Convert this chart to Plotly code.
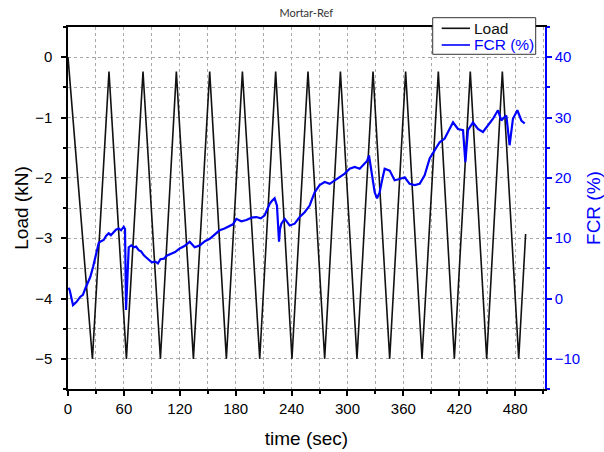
import plotly.graph_objects as go

# Load (kN) triangle wave turning points
load_t = [0, 26.2, 44.0, 62.7, 80.5, 99.2, 116.3, 134.6, 152.1, 170.0, 187.2, 205.8, 222.9,
          240.4, 257.6, 275.5, 292.4, 310.2, 327.4, 345.3, 362.4, 380.0, 397.5, 414.7,
          431.8, 449.4, 466.2, 483.8, 491.2]
load_v = [0, -5.0, -0.24, -5.0, -0.24, -5.0, -0.24, -5.0, -0.24, -5.0, -0.24, -5.0, -0.24,
          -5.0, -0.24, -5.0, -0.24, -5.0, -0.24, -5.0, -0.24, -5.0, -0.24, -5.0,
          -0.24, -5.0, -0.24, -5.0, -2.93]

# FCR (%)
fcr_t = [0.5, 1.8, 5.4, 9, 13.3, 16, 18.7, 21, 24, 27, 29.4, 31, 33, 35.5, 38.3, 41, 43.7, 46,
         49, 51.5, 54.4, 57, 59.8, 61.2, 62.3, 63.5, 65.2, 68, 70.5, 73, 75.9, 78.5, 81.2, 84,
         86.6, 90, 93.8, 96.5, 99.2, 103, 106, 109.9, 115, 119.9, 125, 130.6, 133, 136, 141.4,
         147, 152.1, 157, 162.8, 168, 173.6, 177, 180.7, 186, 191.5, 197, 202.2, 207, 211.1,
         214, 216.5, 219, 221.8, 224.3, 225.5, 226.5, 227.5, 229, 232.6, 238, 243.3, 248.7,
         254, 259.4, 262, 264.8, 270.1, 275.5, 280.9, 286.2, 291.6, 297, 302.3, 307.7, 313.1,
         318.4, 321, 323.1, 325.6, 329.2, 331.7, 334.5, 337, 339.9, 345.3, 350.6, 356, 361.4,
         366.7, 372.1, 377.5, 382.8, 388.2, 393.6, 398.9, 404.3, 409.7, 413.3, 418.6, 424,
         426.5, 429.3, 434.7, 440, 445.4, 450.8, 456.2, 461.5, 465.1, 468, 470.5, 474, 477.6,
         482.3, 486.6, 490.2]
fcr_v = [1.8, 1.4, -1.1, -0.6, 0.3, 0.6, 1.7, 2.5, 3.6, 5.3, 6.7, 8.0, 9.2, 9.5, 9.7, 10.4,
         10.8, 10.5, 11.0, 11.4, 11.6, 11.3, 11.9, 11.5, -1.9, 4.0, 8.5, 8.8, 8.5, 8.6, 8.0,
         7.8, 7.2, 6.8, 6.5, 6.0, 6.1, 5.8, 6.5, 6.6, 7.1, 7.4, 7.7, 8.3, 8.7, 9.4, 9.0, 8.5,
         8.8, 9.5, 9.9, 10.5, 11.3, 11.6, 12.1, 12.3, 13.2, 12.8, 13.0, 13.4, 13.5, 13.3, 13.8,
         14.8, 15.7, 16.2, 16.6, 15.4, 12.0, 9.4, 11.5, 12.4, 13.2, 12.1, 12.4, 13.5, 14.3,
         15.4, 16.5, 17.6, 18.8, 19.3, 19.0, 19.6, 20.1, 20.7, 21.5, 21.8, 21.5, 22.4, 22.8,
         23.7, 21.2, 17.6, 16.6, 17.6, 19.5, 21.5, 21.2, 19.6, 19.8, 20.1, 19.0, 18.8, 19.0,
         20.4, 23.2, 24.6, 25.9, 26.5, 28.1, 29.2, 28.1, 27.9, 22.6, 27.9, 29.2, 28.1, 27.6,
         28.7, 29.8, 31.2, 29.5, 30.0, 30.3, 25.4, 29.8, 31.2, 29.5, 29.0]

x_ticks = [0, 60, 120, 180, 240, 300, 360, 420, 480]
y_ticks = [0, -1, -2, -3, -4, -5]
y2_ticks = [-10, 0, 10, 20, 30, 40]

FONT = "Liberation Sans, Arial, sans-serif"
GRID = "#a8a8a8"
BLUE = "#0000ff"
LOAD_COLOR = "#111111"

fig = go.Figure()
fig.add_trace(go.Scatter(x=load_t, y=load_v, mode="lines", name="Load",
                         line=dict(color=LOAD_COLOR, width=1.6)))
fig.add_trace(go.Scatter(x=fcr_t, y=fcr_v, mode="lines", yaxis="y2", name="FCR (%)",
                         line=dict(color=BLUE, width=2.2)))

# legend box drawn in paper coordinates (compact, like the original)
legend_items = [("Load", LOAD_COLOR, 0.9964), ("FCR (%)", BLUE, 0.9503)]
shapes = [dict(type="rect", xref="paper", yref="paper", x0=0.7646, x1=0.9805,
               y0=0.9246, y1=1.0257, fillcolor="white", line=dict(color="#333", width=1),
               layer="above")]
annotations = []
for label, color, yy in legend_items:
    shapes.append(dict(type="line", xref="paper", yref="paper", x0=0.7834, x1=0.8428,
                       y0=yy, y1=yy, line=dict(color=color, width=1.6), layer="above"))
    annotations.append(dict(text=label, xref="paper", yref="paper", x=0.8470, y=yy,
                            xanchor="left", yanchor="middle", showarrow=False,
                            font=dict(size=15.5, color=color, family=FONT)))

fig.update_layout(
    width=604, height=452,
    margin=dict(l=68, r=59, t=27, b=63),
    paper_bgcolor="white", plot_bgcolor="white",
    font=dict(family=FONT, size=15, color="black"),
    title=dict(text="Mortar-Ref", x=0.507, xanchor="center", y=0.972, yanchor="middle",
               font=dict(family="Lato, Open Sans, sans-serif", size=11, color="#333")),
    showlegend=False,
    shapes=shapes,
    annotations=annotations,
    xaxis=dict(range=[0, 512], tickvals=x_ticks, ticks="outside", ticklen=5,
               tickwidth=1.5, tickcolor="black", automargin=False,
               showline=True, linecolor="black", linewidth=1.5, mirror=True,
               showgrid=True, gridcolor=GRID, griddash="3px,3px", gridwidth=1,
               zeroline=False,
               minor=dict(dtick=30, tick0=0, ticks="outside", ticklen=3, tickcolor="black",
                          showgrid=True, gridcolor=GRID, griddash="3px,3px", gridwidth=1),
               title=dict(text="time (sec)", font=dict(size=19), standoff=16)),
    yaxis=dict(range=[-5.5, 0.5], tickvals=y_ticks, ticks="outside", ticklen=5,
               tickwidth=1.5, tickcolor="black", automargin=False,
               showline=True, linecolor="black", linewidth=1.5,
               showgrid=True, gridcolor=GRID, griddash="3px,3px", gridwidth=1,
               zeroline=False, ticklabelstandoff=6,
               minor=dict(dtick=0.5, tick0=0, ticks="outside", ticklen=3, tickcolor="black",
                          showgrid=True, gridcolor=GRID, griddash="3px,3px", gridwidth=1),
               title=dict(text="Load (kN)", font=dict(size=19), standoff=1)),
    yaxis2=dict(range=[-15, 45], tickvals=y2_ticks, overlaying="y", side="right",
                ticks="outside", ticklen=5, tickwidth=1.5, tickcolor=BLUE, automargin=False,
                showline=True, linecolor=BLUE, linewidth=1.5,
                showgrid=False, zeroline=False,
                tickfont=dict(color=BLUE),
                minor=dict(dtick=5, tick0=0, ticks="outside", ticklen=3, tickcolor=BLUE),
                title=dict(text="FCR (%)", font=dict(size=19, color=BLUE), standoff=14)),
)

fig.write_html("out.html", config={"displayModeBar": False},
               post_script="document.body.style.margin='0';document.body.style.overflow='hidden';")
